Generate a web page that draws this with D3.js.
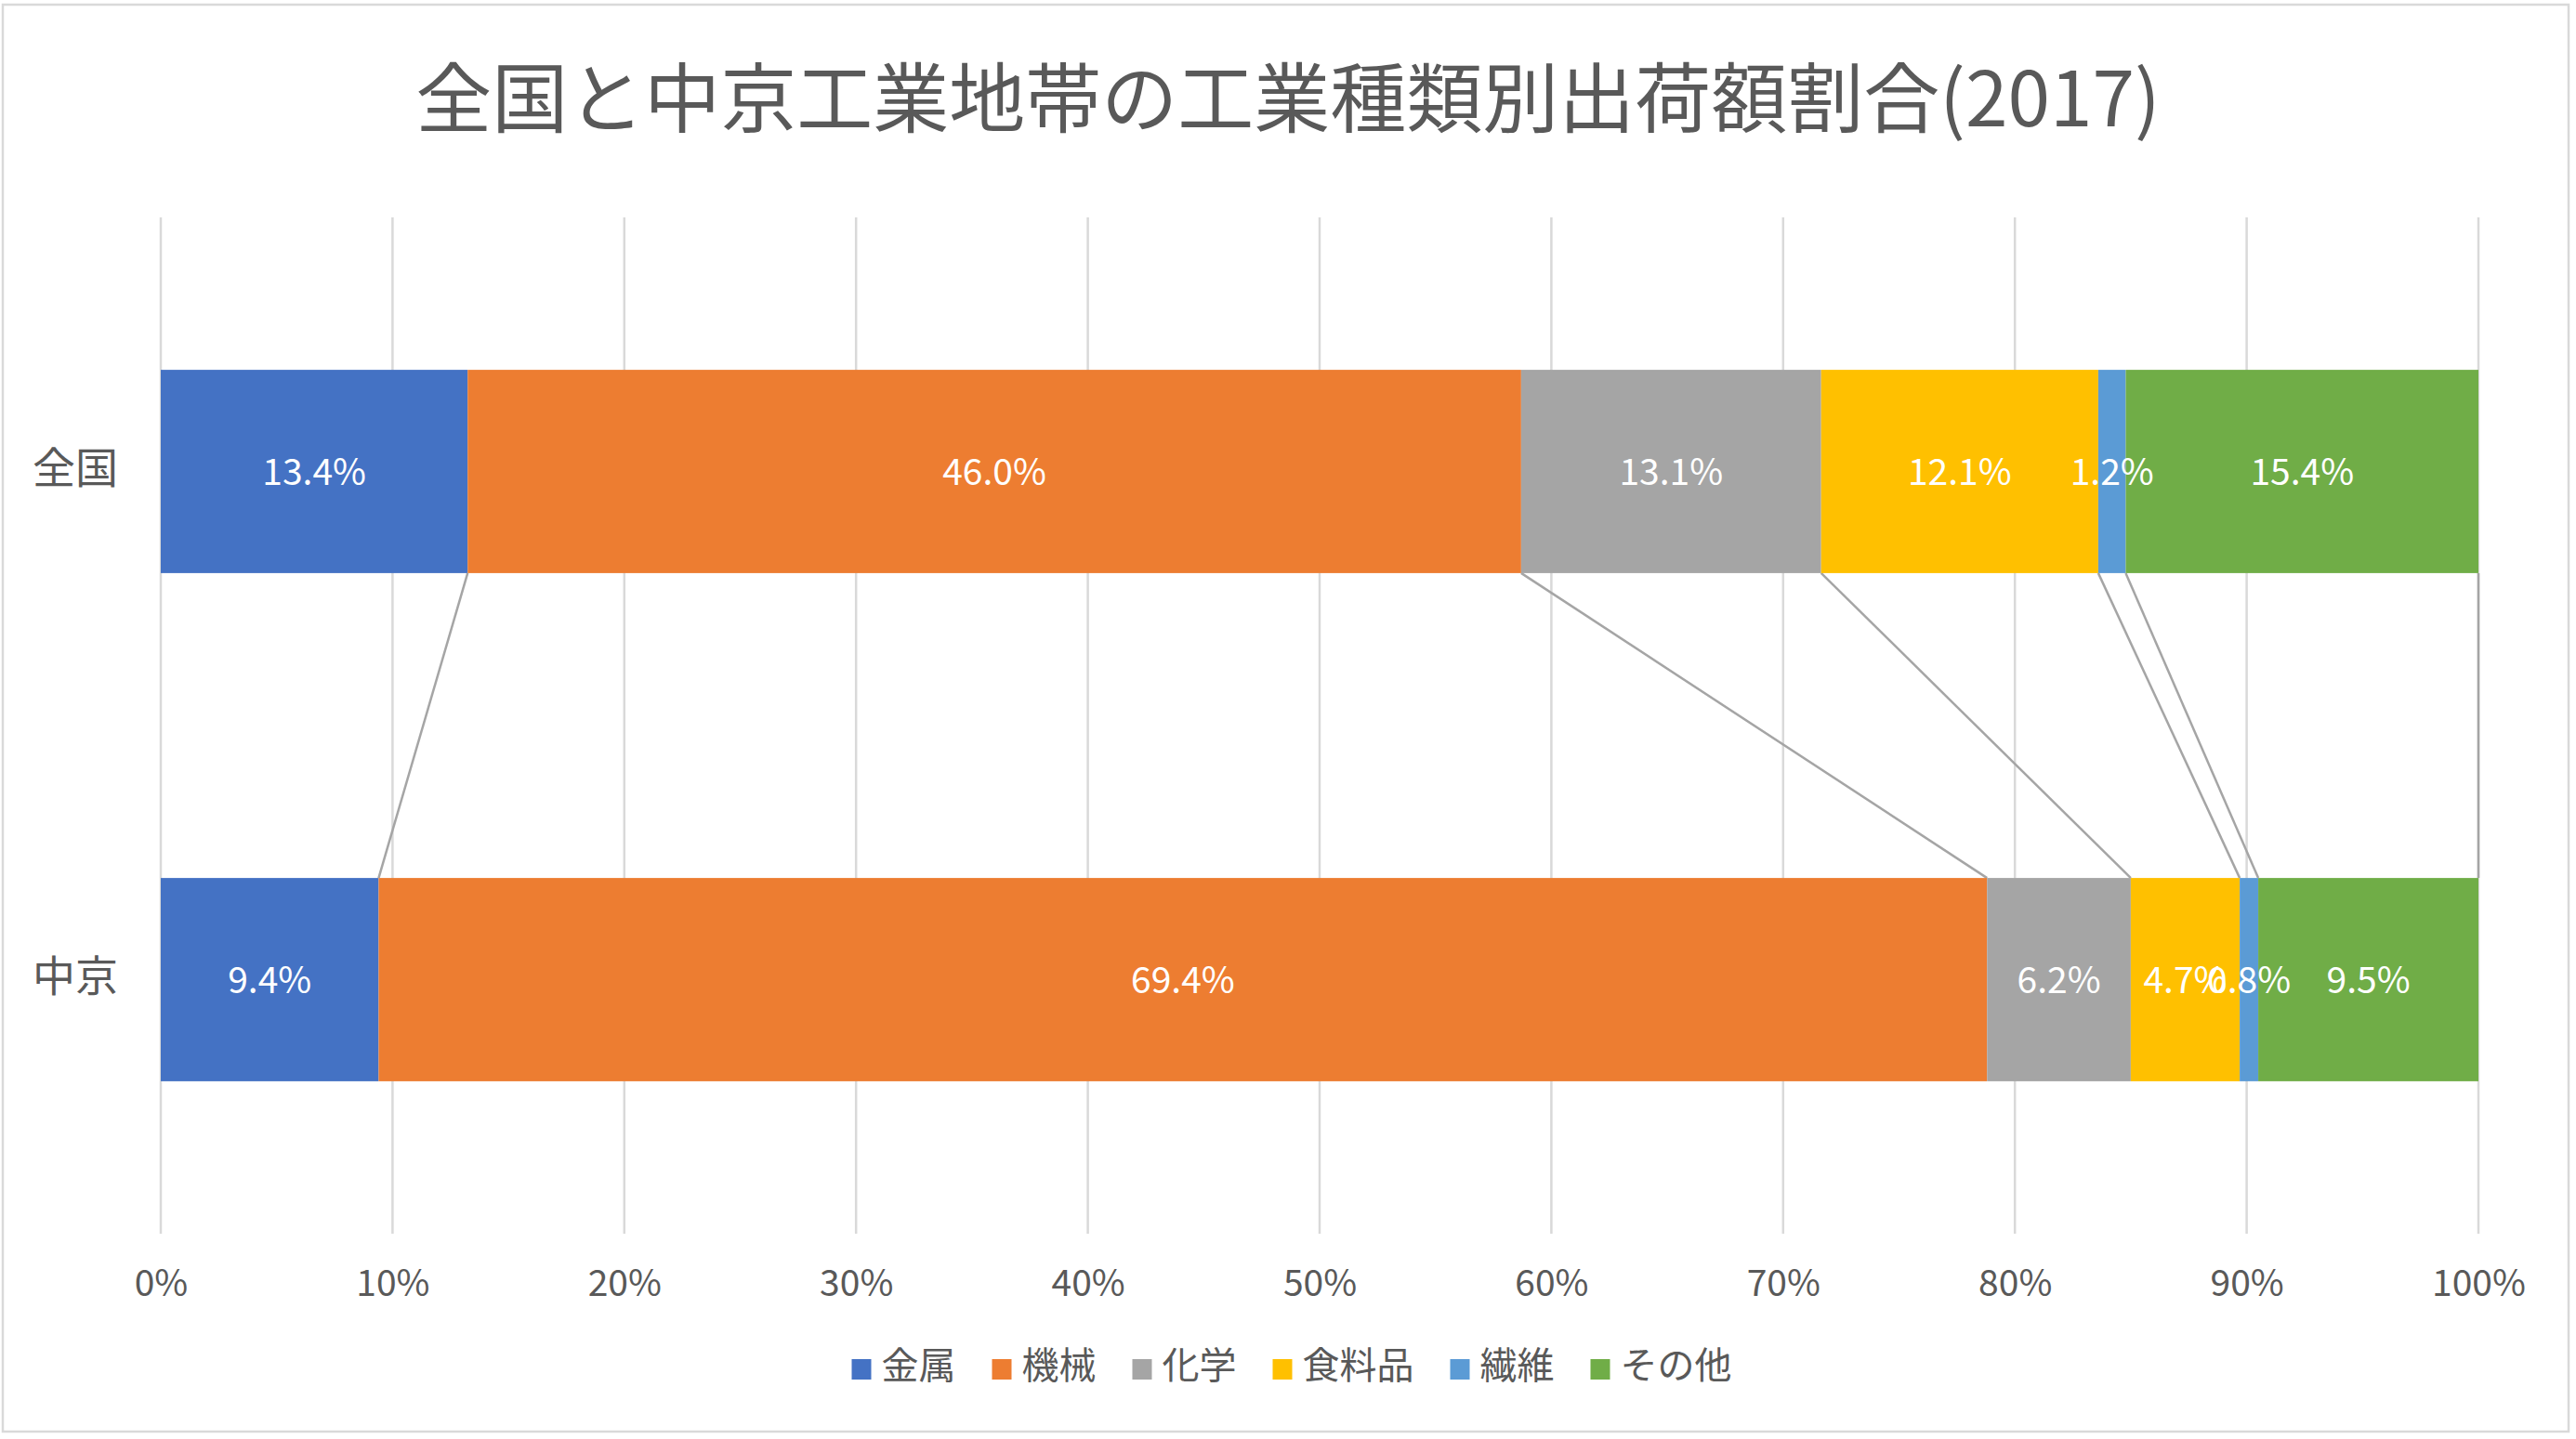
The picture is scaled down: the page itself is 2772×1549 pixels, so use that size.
<!DOCTYPE html>
<html>
<head>
<meta charset="utf-8">
<script src="https://cdn.jsdelivr.net/npm/d3@7"></script>
<style>
  body { margin: 0; background: #fff; }
  text { font-family: "Noto Sans CJK JP", "Noto Sans", sans-serif; }
</style>
</head>
<body>
<div id="chart"></div>
<script>
// データ
const categories = ["全国", "中京"];
const seriesNames = ["金属", "機械", "化学", "食料品", "繊維", "その他"];
const zenkokuValues = [13.4, 46.0, 13.1, 12.1, 1.2, 15.4];
const chukyoValues = [9.4, 69.4, 6.2, 4.7, 0.8, 9.5];
const seriesColors = ["#4472C4", "#ED7D31", "#A5A5A5", "#FFC000", "#5B9BD5", "#70AD47"];
const titleText = "全国と中京工業地帯の工業種類別出荷額割合(2017)";

const width = 2772;
const height = 1549;
const plot = { left: 173, right: 2667, top: 234, bottom: 1328 };

// 行データを作る
const rows = categories.map((cat, i) => {
  const vals = i === 0 ? zenkokuValues : chukyoValues;
  const row = { cat };
  seriesNames.forEach((s, j) => (row[s] = vals[j]));
  return row;
});

const stacked = d3
  .stack()
  .keys(seriesNames)
  .offset(d3.stackOffsetExpand)(rows);

const svg = d3
  .select("#chart")
  .append("svg")
  .attr("width", width)
  .attr("height", height);

// 外枠
svg
  .append("rect")
  .attr("x", 3)
  .attr("y", 5)
  .attr("width", 2761)
  .attr("height", 1536)
  .attr("fill", "#fff")
  .attr("stroke", "#D9D9D9")
  .attr("stroke-width", 2.5);

const x = d3.scaleLinear().domain([0, 1]).range([plot.left, plot.right]);
const y = d3
  .scaleBand()
  .domain(categories)
  .range([plot.top, plot.bottom])
  .paddingInner(0.6)
  .paddingOuter(0.3);
const color = d3.scaleOrdinal().domain(seriesNames).range(seriesColors);

// タイトル
svg
  .append("text")
  .attr("x", width / 2)
  .attr("y", 136)
  .attr("text-anchor", "middle")
  .attr("fill", "#595959")
  .style("font-size", "82px")
  .text(titleText);

// グリッド線
const ticks = x.ticks(10);
svg
  .append("g")
  .selectAll("line")
  .data(ticks)
  .enter()
  .append("line")
  .attr("x1", (d) => x(d))
  .attr("x2", (d) => x(d))
  .attr("y1", plot.top)
  .attr("y2", plot.bottom)
  .attr("stroke", "#D9D9D9")
  .attr("stroke-width", 2.5);

// 横軸
const xAxis = svg
  .append("g")
  .attr("transform", `translate(0,${plot.bottom})`)
  .call(d3.axisBottom(x).ticks(10, ".0%").tickSize(0));
xAxis.select(".domain").remove();
xAxis
  .selectAll("text")
  .attr("y", 67)
  .attr("dy", 0)
  .attr("fill", "#595959")
  .style("font-size", "39px")
  .style("font-family", '"Noto Sans CJK JP", sans-serif');

// 縦軸ラベル
svg
  .append("g")
  .selectAll("text")
  .data(categories)
  .enter()
  .append("text")
  .attr("x", 127)
  .attr("y", (d) => y(d) + y.bandwidth() / 2 + 12)
  .attr("text-anchor", "end")
  .attr("fill", "#595959")
  .style("font-size", "46px")
  .text((d) => d);

// 区分線 (系列線)
const lineGroup = svg.append("g");
stacked.forEach((layer) => {
  const top = layer[0];
  const bottom = layer[1];
  lineGroup
    .append("line")
    .attr("x1", x(top[1]))
    .attr("y1", y(categories[0]) + y.bandwidth())
    .attr("x2", x(bottom[1]))
    .attr("y2", y(categories[1]))
    .attr("stroke", "#A5A5A5")
    .attr("stroke-width", 2.5);
});

// 棒
const layers = svg
  .append("g")
  .selectAll("g")
  .data(stacked)
  .enter()
  .append("g")
  .attr("fill", (d) => color(d.key));

layers
  .selectAll("rect")
  .data((d) => d)
  .enter()
  .append("rect")
  .attr("x", (d) => x(d[0]))
  .attr("y", (d) => y(d.data.cat))
  .attr("width", (d) => x(d[1]) - x(d[0]))
  .attr("height", y.bandwidth());

// データラベル
const labelGroup = svg.append("g");
stacked.forEach((layer) => {
  layer.forEach((d) => {
    labelGroup
      .append("text")
      .attr("x", (x(d[0]) + x(d[1])) / 2)
      .attr("y", y(d.data.cat) + y.bandwidth() / 2 + 14)
      .attr("text-anchor", "middle")
      .attr("fill", "#fff")
      .style("font-size", "39px")
      .text(d.data[layer.key].toFixed(1) + "%");
  });
});

// 凡例
const legend = svg.append("g");
let cursor = 0;
seriesNames.forEach((name) => {
  const item = legend.append("g").attr("transform", `translate(${cursor},0)`);
  item
    .append("rect")
    .attr("x", 0)
    .attr("y", 1463)
    .attr("width", 21)
    .attr("height", 22)
    .attr("fill", color(name));
  const t = item
    .append("text")
    .attr("x", 32)
    .attr("y", 1484)
    .attr("fill", "#595959")
    .style("font-size", "40px")
    .text(name);
  cursor += 32 + t.node().getComputedTextLength() + 39;
});
const legendWidth = cursor - 39;
legend.attr("transform", `translate(${1390 - legendWidth / 2},0)`);
</script>
</body>
</html>
